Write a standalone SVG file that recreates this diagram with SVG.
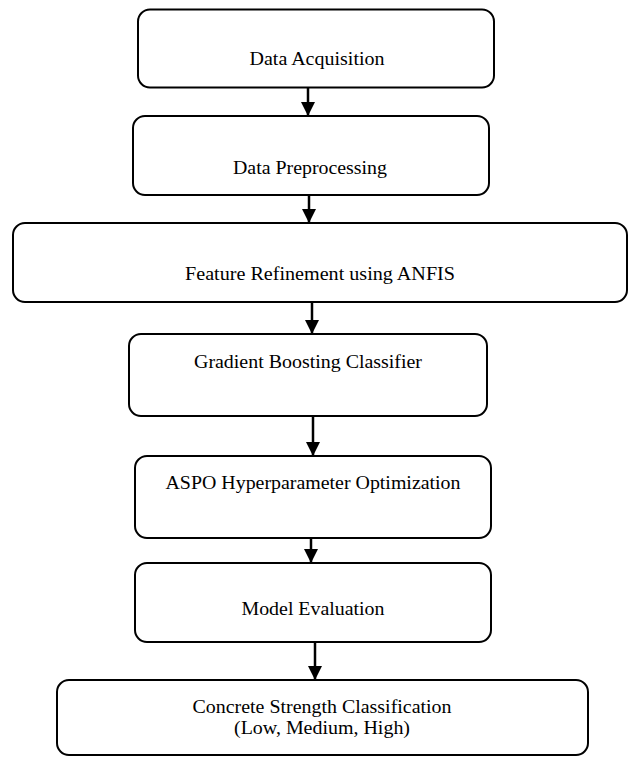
<svg xmlns="http://www.w3.org/2000/svg" width="629" height="757" viewBox="0 0 629 757">
  <style>
    .box { fill: #ffffff; stroke: #000000; stroke-width: 2; }
    .label { font-family: "Liberation Serif", "Times New Roman", serif; font-size: 18px; fill: #000000; text-anchor: middle; }
    .link { stroke: #000000; stroke-width: 2.5; fill: none; marker-end: url(#arrow); }
  </style>
  <defs>
    <marker id="arrow" markerUnits="userSpaceOnUse" markerWidth="14" markerHeight="14" refX="14" refY="7" orient="auto">
      <path d="M0,0 L14,7 L0,14 Z" fill="#000000"/>
    </marker>
  </defs>
  <rect width="629" height="757" fill="#ffffff"/>

  <g id="data-acquisition">
    <rect class="box" x="138" y="9.5" width="356" height="78" rx="12" ry="12"/>
    <text class="label" x="317" y="65" textLength="135" lengthAdjust="spacingAndGlyphs">Data Acquisition</text>
  </g>

  <g id="data-preprocessing">
    <rect class="box" x="133" y="116" width="356" height="79" rx="12" ry="12"/>
    <text class="label" x="310" y="174" textLength="154" lengthAdjust="spacingAndGlyphs">Data Preprocessing</text>
  </g>

  <g id="feature-refinement">
    <rect class="box" x="13" y="223" width="614" height="79" rx="12" ry="12"/>
    <text class="label" x="320" y="280" textLength="270" lengthAdjust="spacingAndGlyphs">Feature Refinement using ANFIS</text>
  </g>

  <g id="gradient-boosting">
    <rect class="box" x="129" y="334" width="358" height="82" rx="12" ry="12"/>
    <text class="label" x="308" y="368" textLength="228" lengthAdjust="spacingAndGlyphs">Gradient Boosting Classifier</text>
  </g>

  <g id="aspo-optimization">
    <rect class="box" x="135" y="456" width="356" height="82" rx="12" ry="12"/>
    <text class="label" x="313" y="489" textLength="295" lengthAdjust="spacingAndGlyphs">ASPO Hyperparameter Optimization</text>
  </g>

  <g id="model-evaluation">
    <rect class="box" x="135" y="563" width="356" height="79" rx="12" ry="12"/>
    <text class="label" x="313" y="615" textLength="143" lengthAdjust="spacingAndGlyphs">Model Evaluation</text>
  </g>

  <g id="strength-classification">
    <rect class="box" x="57" y="680" width="531" height="75" rx="12" ry="12"/>
    <text class="label" x="322" y="713" textLength="259" lengthAdjust="spacingAndGlyphs">Concrete Strength Classification</text>
    <text class="label" x="322" y="734" textLength="176" lengthAdjust="spacingAndGlyphs">(Low, Medium, High)</text>
  </g>

  <g id="connectors">
    <line class="link" x1="308" y1="88" x2="308" y2="116"/>
    <line class="link" x1="309" y1="196" x2="309" y2="223"/>
    <line class="link" x1="312" y1="303" x2="312" y2="334"/>
    <line class="link" x1="313" y1="417" x2="313" y2="456"/>
    <line class="link" x1="311" y1="539" x2="311" y2="563"/>
    <line class="link" x1="315" y1="643" x2="315" y2="680"/>
  </g>
</svg>
